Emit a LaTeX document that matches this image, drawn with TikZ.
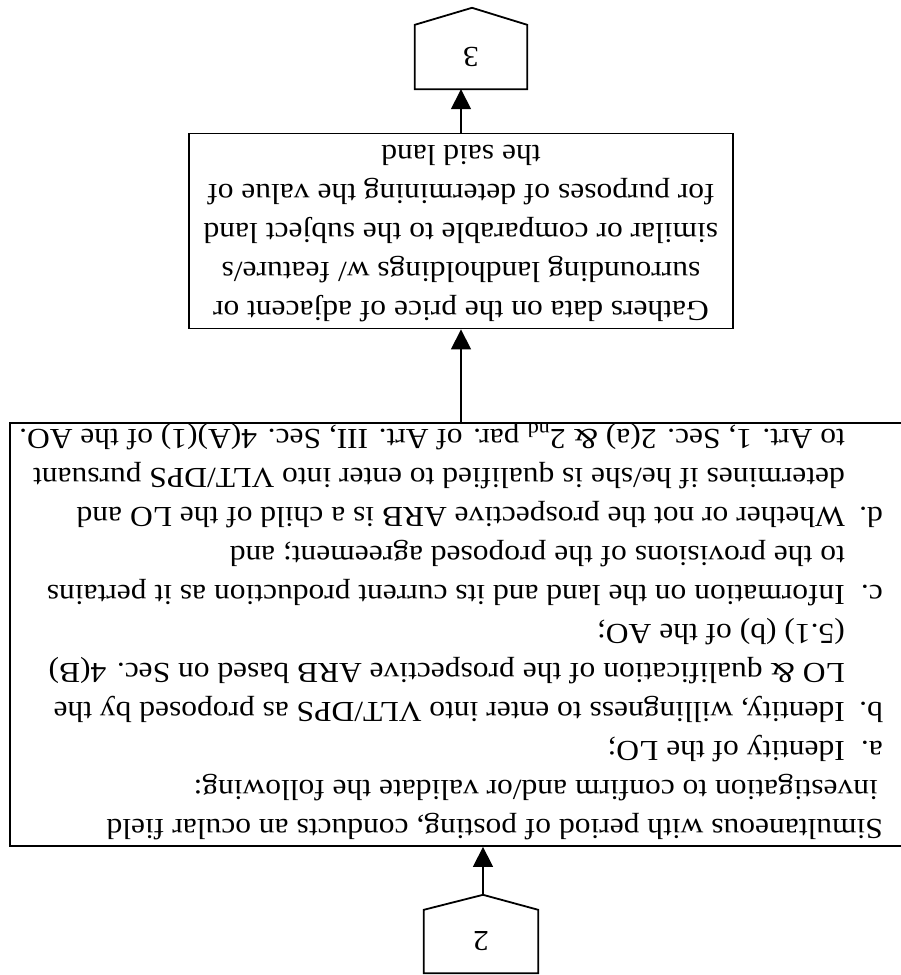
\documentclass[tikz,border=0pt]{standalone}
\usepackage{fontspec}
\setmainfont{Liberation Serif}
\usepackage{graphicx}
\usetikzlibrary{arrows.meta,calc}
% upside-down text, a little compressed vertically as in the scanned sheet
\newcommand{\flipped}[1]{\scalebox{1}[0.92]{\rotatebox{180}{#1}}}
\begin{document}
\begin{tikzpicture}[x=1pt,y=-1pt,
  outline/.style={draw=black, line width=1.8pt, line join=miter},
  bodyfont/.style={font=\fontsize{31.5}{42.4}\selectfont},
  boxnode/.style={outline, rectangle, inner sep=0pt, bodyfont},
  textnode/.style={rectangle, inner sep=0pt, bodyfont},
  connnode/.style={rectangle, inner sep=0pt, bodyfont},
  arr/.style={line width=1.5pt, -{Triangle[length=20pt,width=20pt]}}]
\useasboundingbox (0,0) rectangle (901,975);

% off-page connector 3
\node[connnode, minimum width=112pt, minimum height=64pt] (p3) at (471,57) {\flipped{3}};
\coordinate (p3tip) at ($(p3.north)+(1,-17)$);
\draw[outline] (p3.south west) -- (p3.north west) -- (p3tip) -- (p3.north east) -- (p3.south east) -- cycle;

% data gathering step
\node[boxnode, minimum width=544pt, minimum height=191pt] (gather) at (461,231)
  {\flipped{\begin{tabular}{@{}c@{}}
  Gathers data on the price of adjacent or\\
  surrounding landholdings w/ feature/s\\
  similar or comparable to the subject land\\
  for purposes of determining the value of\\
  the said land
  \end{tabular}}};

% ocular inspection step
\node[boxnode, minimum width=896pt, minimum height=423pt] (bigbox) at (458,634.5) {};
\node[textnode, anchor=east] (bigtext) at (883,632.5)
  {\flipped{\begin{tabular}{@{}l@{}}
  Simultaneous with period of posting, conducts an ocular field\\
  \hspace*{5pt}investigation to confirm and/or validate the following:\\
  \makebox[38pt][l]{a.}Identity of the LO;\\
  \makebox[38pt][l]{b.}Identity, willingness to enter into VLT/DPS as proposed by the\\
  \hspace*{38pt}LO \& qualification of the prospective ARB based on Sec. 4(B)\\
  \hspace*{38pt}(5.1) (b) of the AO;\\
  \makebox[38pt][l]{c.}Information on the land and its current production as it pertains\\
  \hspace*{38pt}to the provisions of the proposed agreement; and\\
  \makebox[38pt][l]{d.}Whether or not the prospective ARB is a child of the LO and\\
  \hspace*{38pt}determines if he/she is qualified to enter into VLT/DPS pursuant\\
  \hspace*{38pt}to Art. 1, Sec. 2(a) \& 2\textsubscript{nd} par. of Art. III, Sec. 4(A)(1) of the AO.
  \end{tabular}}};

% off-page connector 2
\node[connnode, minimum width=114pt, minimum height=63pt] (p2) at (481,941.5) {\flipped{2}};
\coordinate (p2tip) at ($(p2.north)+(2,-15)$);
\draw[outline] (p2.south west) -- (p2.north west) -- (p2tip) -- (p2.north east) -- (p2.south east) -- cycle;

% flow connectors
\draw[arr] (p2tip) -- (p2tip |- bigbox.south);
\draw[arr] (gather.south |- bigbox.north) -- (gather.south);
\draw[arr] (gather.north) -- (gather.north |- p3.south);
\end{tikzpicture}
\end{document}
